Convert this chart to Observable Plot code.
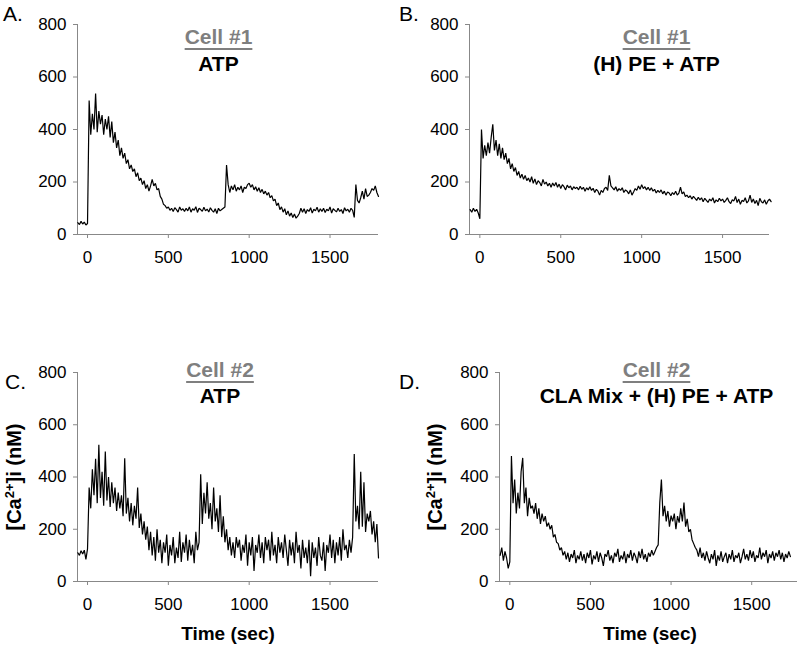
<!DOCTYPE html>
<html>
<head>
<meta charset="utf-8">
<script src="https://cdn.jsdelivr.net/npm/d3@7"></script>
<script src="https://cdn.jsdelivr.net/npm/@observablehq/plot@0.6"></script>
<style>
  html, body { margin: 0; padding: 0; background: #fff; }
  #wrap { position: relative; width: 800px; height: 646px; background: #fff; overflow: hidden;
          font-family: "Liberation Sans", Arial, sans-serif; }
  .panel { position: absolute; }
  .txt { position: absolute; white-space: nowrap; line-height: 1; }
  .letter { font-size: 21px; color: #000; }
  .cell { font-size: 21px; font-weight: bold; color: #7f7f7f; text-align: center; width: 300px;
          text-decoration: underline; text-decoration-thickness: 2px; text-underline-offset: 4px; }
  .treat { font-size: 21px; font-weight: bold; color: #000; text-align: center; width: 300px; }
  .xlab { font-size: 19px; font-weight: bold; color: #000; text-align: center; width: 200px; }
  .ylab { font-size: 20px; font-weight: bold; color: #000; text-align: center; width: 200px; height: 24px;
          line-height: 24px; transform: rotate(-90deg); }
  .ylab sup { font-size: 0.65em; vertical-align: 0.55em; line-height: 0; }
</style>
</head>
<body>
<div id="wrap"></div>
<script>
// ---- Data (sampled every 10 s starting at -60 s) ----
const tStart = -60;
const tStep = 10;
const xTicks = [0, 500, 1000, 1500];
const yTicks = [0, 200, 400, 600, 800];

// A. Cell #1, ATP
const cell1ATP = [
  45, 38, 50, 40, 47, 36, 42,
  510, 380, 460, 400, 537, 390, 470, 420, 455, 380, 440, 400, 450, 370, 430,
  350, 390, 330, 360, 300, 330, 290, 310, 270, 285, 250, 265, 240, 250, 220,
  235, 205, 215, 190, 205, 175, 190, 165, 185, 210, 185, 195, 170, 175, 145,
  135, 115, 110, 100, 105, 92, 100, 88, 102, 95, 85, 105, 92, 98, 88,
  100, 90, 105, 85, 98, 92, 106, 84, 100, 95, 88, 104, 90, 97, 86,
  102, 92, 85, 98, 80, 100, 90, 95, 100, 105,
  265, 190, 160, 185, 170, 190, 165, 180, 170, 185, 160, 180, 175, 190, 195,
  180, 190, 170, 182, 165, 178, 160, 172, 155, 165, 150, 160, 140, 148, 128,
  135, 110, 120, 95, 105, 85, 98, 75, 90, 70, 82, 65, 78, 62, 70,
  80, 100, 85, 98, 80, 95, 88, 102, 82, 96, 90, 104, 85, 98, 88,
  100, 84, 96, 90, 105, 82, 98, 92, 86, 100, 88, 95, 80, 102, 90, 96, 85, 100, 92, 65,
  190, 130, 120, 140, 165, 135, 175, 145, 150, 160, 175, 168, 185, 160, 145
];

// B. Cell #1, (H) PE + ATP
const cell1PEATP = [
  95, 85, 100, 88, 96, 82, 60,
  400, 290, 340, 300, 350, 310, 370, 420, 320, 360, 300, 345, 290, 330, 285,
  310, 270, 290, 250, 270, 240, 255, 225, 240, 215, 230, 210, 225, 205, 215,
  200, 220, 195, 212, 190, 205, 198, 185, 210, 192, 200, 185, 195, 180, 196,
  185, 198, 180, 192, 175, 190, 182, 170, 188, 178, 185, 170, 182, 175, 180,
  170, 184, 172, 180, 165, 178, 170, 182, 168, 176, 160, 172, 165, 150, 168,
  160, 175, 180, 168, 225, 185, 178, 170, 182, 165, 175, 168, 178, 160, 170,
  165, 155, 170, 150, 162, 175, 168, 185, 172, 190, 175, 182, 170, 180, 168,
  178, 165, 172, 158, 168, 160, 170, 155, 165, 150, 162, 158, 148, 160, 152,
  165, 150, 158, 180, 155, 162, 145, 150, 140, 148, 135, 145, 138, 130, 142,
  132, 140, 125, 138, 130, 122, 135, 128, 140, 120, 132, 125, 138, 128, 135,
  122, 130, 140, 125, 118, 132, 128, 145, 122, 135, 115, 130, 126, 140, 120,
  128, 150, 122, 135, 118, 130, 110, 138, 125, 120, 132, 115, 128, 135, 125
];

// C. Cell #2, ATP
const cell2ATP = [
  110, 100, 118, 105, 120, 85, 125,
  360, 280, 430, 330, 470, 300, 523, 320, 420, 290, 498, 310, 400, 285, 380,
  300, 360, 270, 340, 280, 330, 250, 472, 260, 320, 230, 300, 215, 290, 240,
  360, 205, 260, 180, 230, 160, 210, 120, 190, 100, 170, 80, 200, 110, 160,
  70, 150, 110, 180, 60, 140, 100, 170, 70, 130, 90, 190, 75, 150, 110,
  180, 80, 160, 100, 140, 70, 190, 120, 150, 410, 220, 340, 260, 380, 240,
  300, 200, 360, 230, 280, 190, 330, 170, 250, 150, 200, 120, 170, 100, 150,
  90, 170, 130, 160, 80, 140, 110, 180, 60, 150, 100, 170, 40, 140, 110,
  180, 90, 150, 70, 170, 120, 160, 80, 190, 100, 140, 70, 170, 110, 150,
  90, 180, 120, 60, 160, 100, 150, 70, 190, 110, 140, 50, 160, 90, 130,
  70, 160, 20, 150, 90, 130, 60, 170, 100, 80, 150, 40, 140, 110, 180,
  90, 160, 70, 150, 100, 170, 80, 200, 120, 140, 90, 160, 110, 170, 488,
  230, 290, 200, 420, 210, 380, 190, 260, 230, 270, 180, 230, 150, 220, 90
];

// D. Cell #2, CLA Mix + (H) PE + ATP
const cell2CLAPEATP = [
  100, 130, 80, 115, 90, 50, 75,
  480, 300, 390, 260, 340, 280, 420, 473, 300, 360, 250, 320, 280, 290, 260,
  300, 240, 280, 220, 260, 230, 250, 210, 225, 200, 215, 170, 180, 150, 145,
  120, 130, 100, 115, 85, 110, 75, 105, 90, 120, 70, 100, 85, 115, 80,
  105, 70, 110, 90, 120, 65, 100, 85, 115, 75, 110, 90, 60, 105, 95,
  120, 80, 100, 70, 110, 95, 125, 75, 100, 85, 115, 70, 105, 90, 120,
  80, 110, 95, 70, 115, 90, 125, 85, 105, 75, 110, 95, 120, 100, 115,
  130, 140, 302, 390, 250, 290, 230, 270, 210, 252, 230, 260, 200, 250, 225,
  280, 230, 302, 210, 240, 190, 200, 160, 145, 130, 120, 95, 130, 90, 110,
  80, 115, 90, 70, 105, 85, 120, 60, 100, 80, 115, 75, 95, 110, 70,
  105, 85, 120, 75, 100, 90, 110, 70, 95, 125, 85, 105, 80, 120, 90,
  115, 75, 100, 90, 130, 85, 110, 95, 120, 70, 105, 90, 115, 80, 110,
  95, 120, 85, 110, 75, 105, 90, 115, 95
];

const letters = ["A.", "B.", "C.", "D."];
const cellNames = ["Cell #1", "Cell #1", "Cell #2", "Cell #2"];
const treatments = ["ATP", "(H) PE + ATP", "ATP", "CLA Mix + (H) PE + ATP"];

// ---- Drawing ----
const wrap = document.getElementById("wrap");

function series(vals) {
  return vals.map((v, i) => ({t: tStart + i * tStep, v}));
}

function panel(vals, cfg) {
  const plot = Plot.plot({
    width: 400,
    height: cfg.h,
    marginLeft: cfg.ml,
    marginRight: cfg.mr,
    marginTop: cfg.mt,
    marginBottom: cfg.mb,
    x: {domain: cfg.xd},
    y: {domain: [0, 800]},
    style: {fontFamily: '"Liberation Sans", Arial, sans-serif', fontSize: "17px", color: "#000", background: "transparent", overflow: "visible"},
    marks: [
      Plot.axisX({ticks: xTicks, tickSize: 4, tickPadding: 12, label: null, stroke: "#888", fill: "#000", tickFormat: d => String(d)}),
      Plot.axisY({ticks: yTicks, tickSize: 4, tickPadding: 7, label: null, stroke: "#888", fill: "#000", tickFormat: d => String(d)}),
      Plot.ruleX([cfg.xd[0]], {stroke: "#888", strokeWidth: 1}),
      Plot.ruleY([0], {stroke: "#888", strokeWidth: 1}),
      Plot.line(series(vals), {x: "t", y: "v", stroke: "#000", strokeWidth: 1.2, strokeLinejoin: "miter"})
    ]
  });
  const d = document.createElement("div");
  d.className = "panel";
  d.style.left = cfg.left + "px";
  d.style.top = cfg.top + "px";
  d.appendChild(plot);
  wrap.appendChild(d);
}

panel(cell1ATP,      {left: 0,   top: 0,   h: 270, ml: 77, mr: 22, mt: 24, mb: 36, xd: [-62, 1800]});
panel(cell1PEATP,    {left: 400, top: 0,   h: 270, ml: 69, mr: 31, mt: 24, mb: 36, xd: [-64, 1790]});
panel(cell2ATP,      {left: 0,   top: 330, h: 290, ml: 77, mr: 22, mt: 42, mb: 39, xd: [-62, 1800]});
panel(cell2CLAPEATP, {left: 400, top: 330, h: 290, ml: 99, mr: 3,  mt: 42, mb: 39, xd: [-64, 1784]});

function addText(cls, html, left, top) {
  const e = document.createElement("div");
  e.className = "txt " + cls;
  e.innerHTML = html;
  e.style.left = left + "px";
  e.style.top = top + "px";
  wrap.appendChild(e);
  return e;
}

// panel letters (baseline ~ top + 17.8)
const letterPos = [[3, 3], [399, 3], [5, 371], [399, 371]];
letters.forEach((L, i) => addText("letter", L, letterPos[i][0], letterPos[i][1]));

// titles: centers and baselines
const titleCenters = [218.5, 656.5, 220, 656.5];
const cellBase = [44, 44, 377, 377];
const treatBase = [71, 71, 403, 403];
cellNames.forEach((c, i) => addText("cell", c, titleCenters[i] - 150, cellBase[i] - 17.8));
treatments.forEach((t, i) => addText("treat", t, titleCenters[i] - 150, treatBase[i] - 17.8));

// x axis labels
addText("xlab", "Time (sec)", 228 - 100, 624);
addText("xlab", "Time (sec)", 650 - 100, 624);

// y axis labels (rotated about their centre)
addText("ylab", "[Ca<sup>2+</sup>]i (nM)", 14 - 100, 477 - 12);
addText("ylab", "[Ca<sup>2+</sup>]i (nM)", 435 - 100, 477 - 12);
</script>
</body>
</html>
